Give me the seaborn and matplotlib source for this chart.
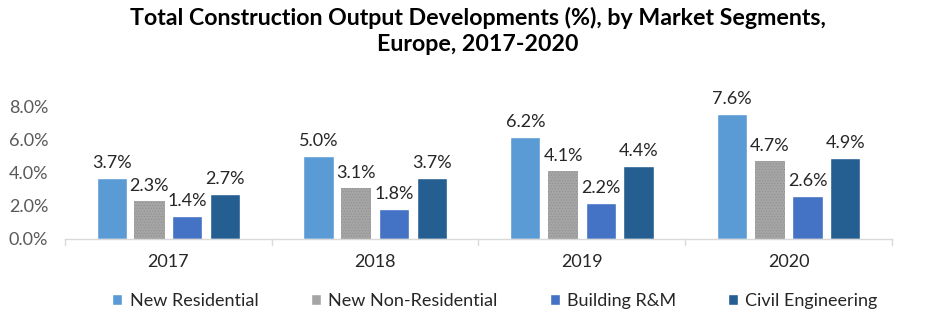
import matplotlib
matplotlib.use("Agg")
import matplotlib.pyplot as plt
import seaborn as sns
import pandas as pd

years = ["2017", "2018", "2019", "2020"]
segments = ["New Residential", "New Non-Residential", "Building R&M", "Civil Engineering"]
new_residential = [3.7, 5.0, 6.2, 7.6]
new_non_residential = [2.3, 3.1, 4.1, 4.7]
building_rm = [1.4, 1.8, 2.2, 2.6]
civil_engineering = [2.7, 3.7, 4.4, 4.9]
colors = ["#5B9BD5", "#A5A5A5", "#4472C4", "#255E91"]

series = [new_residential, new_non_residential, building_rm, civil_engineering]
df = pd.DataFrame(
    [(y, s, v) for s, vals in zip(segments, series) for y, v in zip(years, vals)],
    columns=["Year", "Segment", "Value"],
)

sns.set_theme(style="white")
plt.rcParams["font.family"] = ["Lato", "DejaVu Sans"]
plt.rcParams["hatch.linewidth"] = 0.4

fig = plt.figure(figsize=(9.41, 3.22), dpi=100)
ax = fig.add_axes([0.069, 0.258, 0.879, 0.41])

sns.barplot(
    data=df, x="Year", y="Value", hue="Segment", order=years, hue_order=segments,
    palette=colors, width=0.73, gap=0.2, saturation=1, ax=ax, legend=True,
)

# Fine dotted texture on the non-residential bars
for patch in ax.containers[1]:
    patch.set_hatch("......")
    patch.set_edgecolor("#8E8E8E")
    patch.set_linewidth(0)

for cont in ax.containers:
    ax.bar_label(cont, fmt="%.1f%%", padding=5, fontsize=13, color="#262626")

ax.set_ylim(0, 8.0)
ax.set_yticks([0, 2, 4, 6, 8])
ax.set_yticklabels([f"{t:.1f}%" for t in [0, 2, 4, 6, 8]], fontsize=13, color="#595959")
ax.set_xlim(-0.5, 3.5)
ax.set_xticks([0, 1, 2, 3])
ax.set_xticklabels(years, fontsize=13, color="#262626")
ax.tick_params(axis="x", length=0, pad=11)
ax.tick_params(axis="y", length=0, pad=12)
ax.set_xlabel("")
ax.set_ylabel("")

for side in ["top", "right", "left"]:
    ax.spines[side].set_visible(False)
ax.spines["bottom"].set_color("#D9D9D9")
ax.spines["bottom"].set_linewidth(1)

# Category separator ticks below the baseline
for b in [-0.5, 0.5, 1.5, 2.5, 3.5]:
    ax.plot([b, b], [0, -0.35], color="#D9D9D9", lw=1, clip_on=False)

handles, labels = ax.get_legend_handles_labels()
ax.legend(
    handles, labels, loc="center", bbox_to_anchor=(0.52, -0.47), ncol=4, frameon=False,
    fontsize=13, handlelength=0.55, handleheight=0.55, handletextpad=0.4, columnspacing=2.9,
    labelcolor="#262626",
)

fig.suptitle(
    "Total Construction Output Developments (%), by Market Segments,\nEurope, 2017-2020",
    x=0.508, y=0.98, fontsize=16.7, fontweight="bold", color="#000000", linespacing=1.3,
)

fig.savefig("out.png", dpi=100)
